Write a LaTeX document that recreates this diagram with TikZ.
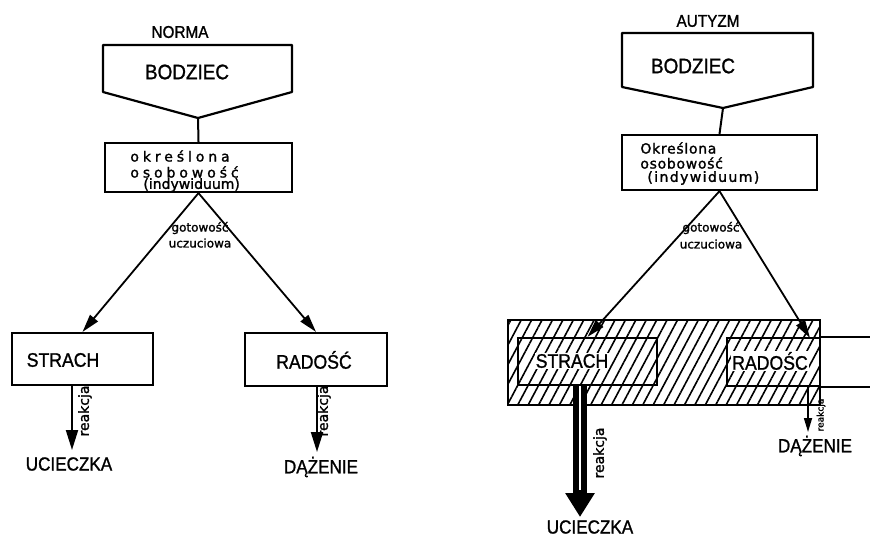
\documentclass[tikz,border=0pt]{standalone}
\usepackage{fontspec}
\setmainfont{Liberation Sans}
\newfontfamily\lab[FakeStretch=0.9,FakeBold=1.2]{Liberation Sans}
\newfontfamily\hand[FakeBold=1.5]{DejaVu Sans}
\usetikzlibrary{arrows.meta,fit,patterns.meta,calc}
\begin{document}
\begin{tikzpicture}[x=0.5pt,y=-0.5pt,
 box/.style={draw,line width=1.1pt,inner sep=0pt},
 conn/.style={line width=1pt},
 arrd/.style={line width=0.9pt,-{Triangle[length=9pt,width=5pt]}},
 arrv/.style={line width=1pt,-{Triangle[length=10pt,width=6pt]}},
 arrs/.style={line width=0.8pt,-{Triangle[length=7pt,width=4pt]}},
 ttl/.style={font=\lab\fontsize{8.5}{10}\selectfont,inner sep=0pt},
 big/.style={font=\lab\fontsize{10.5}{12}\selectfont,inner sep=0pt},
 lbl/.style={font=\lab\fontsize{9.8}{11}\selectfont,inner sep=0pt},
 outc/.style={font=\lab\fontsize{9.5}{11}\selectfont,inner sep=0pt},
 hnd/.style={font=\hand\fontsize{7}{8}\selectfont,inner sep=0pt,anchor=west},
 sml/.style={font=\hand\fontsize{6}{7}\selectfont,inner sep=0pt},
 rk/.style={font=\hand\fontsize{7}{8}\selectfont,inner sep=0pt,rotate=90},
 hatch/.style={pattern={Lines[angle=62,distance=4.6pt,line width=0.8pt]}},
]
\useasboundingbox (0,0) rectangle (870,536);

% ---------------- NORMA ----------------
\node[ttl] (normaT) at (180,32) {NORMA};
\draw[line width=1.1pt,line join=round] (103,45) -- (292,45) -- (292,92) -- (198,118) -- (103,92) -- cycle;
\coordinate (bzLtip) at (198,118);
\node[big] (bzL) at (187,72) {BODZIEC};
\node[box,fit={(105,143) (292,192)}] (okL) {};
\node[hnd] (okL1) at (130,156) {\addfontfeature{LetterSpace=28}określona};
\node[hnd] (okL2) at (130,172) {\addfontfeature{LetterSpace=28}osobowość};
\node[hnd] (okL3) at (143,185) {(indywiduum)};
\draw[conn] (bzLtip) -- (okL.north);

\node[box,fit={(12,333) (153,385)}] (sL) {};
\node[lbl] (sLt) at (63,360) {STRACH};
\node[box,fit={(245,333) (387,386)}] (rL) {};
\node[lbl] (rLt) at (314,360) {RADOŚĆ};
\draw[arrd] (okL.south) -- (sL.north);
\draw[arrd] (okL.south) -- (rL.north);
\node[sml] (gL1) at (200,228) {gotowość};
\node[sml] (gL2) at (200,243) {uczuciowa};

\coordinate (uL) at (72,450);
\draw[arrv] (sL.south -| uL) -- (uL);
\node[rk] (rkL1) at (85,411) {reakcja};
\node[outc] (ucL) at (69,464) {UCIECZKA};
\coordinate (dL) at (317,452);
\draw[arrv] (rL.south -| dL) -- (dL);
\node[rk] (rkL2) at (324,411) {reakcja};
\node[outc] (dzL) at (321,467) {DĄŻENIE};

% ---------------- AUTYZM ----------------
\node[ttl] (autT) at (708,21) {AUTYZM};
\draw[line width=1.1pt,line join=round] (622,33) -- (813,33) -- (813,87) -- (723,108) -- (622,87) -- cycle;
\coordinate (bzRtip) at (723,108);
\node[big] (bzR) at (693,66) {BODZIEC};
\node[box,fit={(622,135) (817,190)}] (okR) {};
\node[hnd] (okR1) at (640,148) {\addfontfeature{LetterSpace=5}Określona};
\node[hnd] (okR2) at (640,163) {\addfontfeature{LetterSpace=5}osobowość};
\node[hnd] (okR3) at (647,178) {\addfontfeature{LetterSpace=10}(indywiduum)};
\draw[conn] (bzRtip) -- (okR.north);

\node[box,hatch,fit={(508,320) (820,405)}] (hat) {};
\node[box,fit={(518,338) (657,385)}] (sR) {};
\node[box,fit={(727,338) (820,386)}] (rR) {};
\draw[line width=1.1pt] (rR.north east) -- ++(50,0);
\draw[line width=1.1pt] (rR.south east) -- ++(50,0);
\node[lbl,fill=white,inner sep=0.6pt] (sRt) at (572,361) {STRACH};
\node[lbl,fill=white,inner sep=0.6pt] (rRt) at (770,361) {RADOŚC};

\coordinate (tipRR) at (810,338);
\draw[arrd] (okR.south) -- (sR.north);
\draw[arrd] (okR.south) -- (tipRR);
\node[sml] (gR1) at (711,228) {gotowość};
\node[sml] (gR2) at (711,244) {uczuciowa};

\coordinate (uR) at (580,517);
\draw[line width=7pt,-{Triangle[length=12pt,width=14pt]}] (sR.south -| uR) -- (uR);
\draw[white,line width=1pt] (sR.south -| uR) -- ($(uR)+(0,-27)$);
\node[rk] (rkR) at (600,453) {reakcja};
\node[outc] (ucR) at (590,527) {UCIECZKA};

\coordinate (dR) at (808,432);
\draw[arrs] (rR.south -| dR) -- (dR);
\node[rk,font=\hand\fontsize{4.5}{5}\selectfont] (rkR2) at (821,415) {reakcja};
\node[outc] (dzR) at (815,446) {DĄŻENIE};
\end{tikzpicture}
\end{document}
